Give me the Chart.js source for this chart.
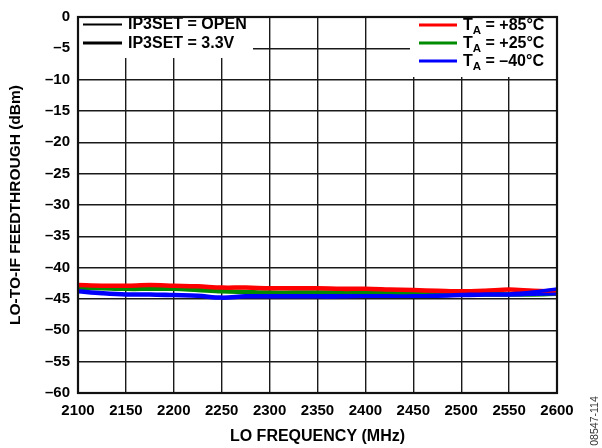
<!DOCTYPE html>
<html>
<head>
<meta charset="utf-8">
<script src="https://cdn.jsdelivr.net/npm/chart.js@4/dist/chart.umd.min.js"></script>
<style>
html,body{margin:0;padding:0;background:#fff;}
#wrap{position:relative;width:602px;height:448px;}
</style>
</head>
<body>
<div id="wrap"><canvas id="c" width="602" height="448"></canvas></div>
<script>
// ---- data ----
const freqs = [2100,2125,2150,2175,2200,2225,2250,2275,2300,2325,2350,2375,2400,2425,2450,2475,2500,2525,2550,2575,2600];
const red33   = [-42.7,-42.8,-42.8,-42.7,-42.8,-42.9,-43.1,-43.1,-43.2,-43.2,-43.2,-43.3,-43.3,-43.4,-43.5,-43.6,-43.7,-43.6,-43.4,-43.6,-43.7];
const redOpen = [-42.9,-43.0,-43.0,-42.9,-43.0,-43.1,-43.3,-43.3,-43.4,-43.4,-43.4,-43.5,-43.5,-43.6,-43.7,-43.8,-43.9,-43.8,-43.6,-43.9,-44.2];
const grn33   = [-43.1,-43.2,-43.3,-43.3,-43.3,-43.5,-43.7,-43.8,-43.9,-43.9,-43.9,-43.9,-44.0,-44.0,-44.0,-44.0,-44.0,-44.1,-44.2,-44.2,-44.1];
const grnOpen = [-43.3,-43.4,-43.5,-43.5,-43.5,-43.7,-43.9,-44.0,-44.1,-44.1,-44.1,-44.1,-44.2,-44.2,-44.2,-44.2,-44.3,-44.4,-44.4,-44.4,-44.3];
const blu33   = [-43.7,-44.0,-44.2,-44.2,-44.3,-44.4,-44.7,-44.5,-44.5,-44.5,-44.5,-44.5,-44.5,-44.5,-44.5,-44.4,-44.3,-44.2,-44.2,-43.9,-43.4];
const bluOpen = [-43.9,-44.2,-44.4,-44.4,-44.5,-44.6,-44.9,-44.7,-44.7,-44.7,-44.7,-44.7,-44.6,-44.6,-44.6,-44.6,-44.5,-44.4,-44.4,-44.3,-44.2];

const xTickLabels = ['2100','2150','2200','2250','2300','2350','2400','2450','2500','2550','2600'];
const yTickLabels = ['0','–5','–10','–15','–20','–25','–30','–35','–40','–45','–50','–55','–60'];
const ip3Labels = ['IP3SET = OPEN','IP3SET = 3.3V'];
const tempLabels = ['+85°C','+25°C','–40°C'];
const tempColors = ['#ff0000','#008c00','#0000ff'];

const FONT = '"Liberation Sans", Arial, Helvetica, sans-serif';

function pts(arr){ return arr.map((v,i)=>({x:freqs[i], y:v})); }
function ds(arr, color, w){
  return {data: pts(arr), borderColor: color, backgroundColor: color, borderWidth: w,
          pointRadius: 0, tension: 0.35, fill: false};
}

const legendPlugin = {
  id: 'legendBoxes',
  beforeDatasetsDraw(chart){
    const ctx = chart.ctx;
    const a = chart.chartArea;
    ctx.save();
    ctx.fillStyle = '#fff';
    ctx.fillRect(a.left, a.top, 253 - a.left, 58 - a.top);
    ctx.fillRect(410, a.top, a.right - 410, 77 - a.top);
    // left legend
    ctx.strokeStyle = '#000';
    ctx.lineCap = 'butt';
    ctx.fillStyle = '#000';
    ctx.font = 'bold 16px ' + FONT;
    ctx.textBaseline = 'middle';
    const lw = [2, 3.2];
    const ly = [24.5, 43];
    for (let i = 0; i < 2; i++) {
      ctx.lineWidth = lw[i];
      ctx.beginPath(); ctx.moveTo(83, ly[i]); ctx.lineTo(122, ly[i]); ctx.stroke();
      ctx.fillText(ip3Labels[i], 128, ly[i] + 0.5);
    }
    // right legend
    const ry = [25, 43, 61];
    for (let i = 0; i < 3; i++) {
      ctx.strokeStyle = tempColors[i];
      ctx.lineWidth = 3;
      ctx.beginPath(); ctx.moveTo(419, ry[i]); ctx.lineTo(457, ry[i]); ctx.stroke();
      ctx.fillStyle = '#000';
      ctx.font = 'bold 16px ' + FONT;
      let x = 463;
      ctx.fillText('T', x, ry[i] + 0.5);
      x += ctx.measureText('T').width;
      ctx.font = 'bold 11.5px ' + FONT;
      ctx.fillText('A', x, ry[i] + 6);
      x += ctx.measureText('A').width;
      ctx.font = 'bold 16px ' + FONT;
      ctx.fillText(' = ' + tempLabels[i], x, ry[i] + 0.5);
    }
    ctx.restore();
  },
  afterDraw(chart){
    const ctx = chart.ctx;
    const a = chart.chartArea;
    ctx.save();
    ctx.strokeStyle = '#111';
    ctx.lineWidth = 2.2;
    ctx.strokeRect(a.left, a.top, a.right - a.left, a.bottom - a.top);
    // figure code
    ctx.translate(595, 421);
    ctx.rotate(-Math.PI / 2);
    ctx.fillStyle = '#333';
    ctx.font = '10.5px ' + FONT;
    ctx.textAlign = 'center';
    ctx.textBaseline = 'middle';
    ctx.fillText('08547-114', 0, 0);
    ctx.restore();
  }
};

new Chart(document.getElementById('c'), {
  type: 'line',
  data: {
    datasets: [
      ds(blu33, tempColors[2], 3.5),
      ds(bluOpen, tempColors[2], 3),
      ds(red33, tempColors[0], 3.5),
      ds(redOpen, tempColors[0], 3),
      ds(grn33, tempColors[1], 3.5),
      ds(grnOpen, tempColors[1], 3)
    ]
  },
  options: {
    responsive: false,
    animation: false,
    devicePixelRatio: 1,
    layout: {padding: {left: 0, top: 10, right: 45, bottom: 0}},
    plugins: {legend: {display: false}, tooltip: {enabled: false}},
    scales: {
      x: {
        type: 'linear', min: 2100, max: 2600,
        ticks: {stepSize: 50, padding: 9, color: '#000', maxRotation: 0, autoSkip: false,
          font: {family: FONT, size: 15, weight: 'bold'},
          callback: (v) => xTickLabels[Math.round((v - 2100) / 50)]},
        grid: {color: '#1a1a1a', lineWidth: 1.4, drawTicks: false},
        border: {display: false},
        title: {display: true, text: 'LO FREQUENCY (MHz)', color: '#000',
          font: {family: FONT, size: 16, weight: 'bold'}, padding: {top: 0, bottom: 2}},
        afterFit: (s) => { s.height = 55; }
      },
      y: {
        type: 'linear', min: -60, max: 0,
        ticks: {stepSize: 5, padding: 8, color: '#000', autoSkip: false,
          font: {family: FONT, size: 15, weight: 'bold'},
          callback: (v) => yTickLabels[Math.round(-v / 5)]},
        grid: {color: '#1a1a1a', lineWidth: 1.4, drawTicks: false},
        border: {display: false},
        title: {display: true, text: 'LO-TO-IF FEEDTHROUGH (dBm)', color: '#000',
          font: {family: FONT, size: 15.5, weight: 'bold'}, padding: {top: 6, bottom: 0}},
        afterFit: (s) => { s.width = 78; }
      }
    }
  },
  plugins: [legendPlugin]
});
</script>
</body>
</html>
